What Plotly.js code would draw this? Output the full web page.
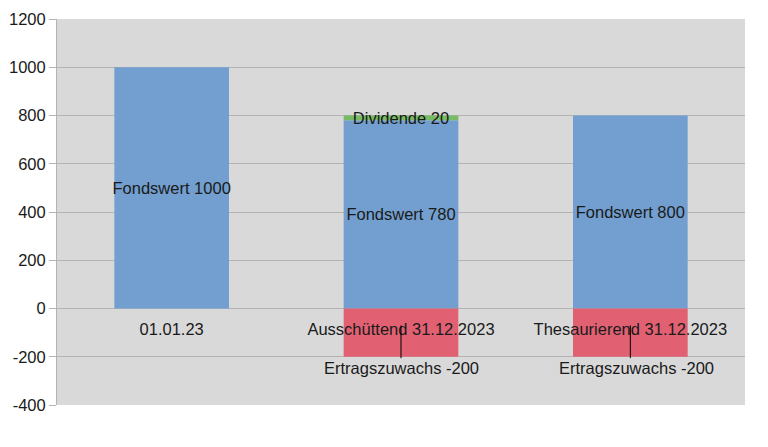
<!DOCTYPE html>
<html>
<head>
<meta charset="utf-8">
<script src="https://cdn.plot.ly/plotly-3.0.1.min.js"></script>
<style>html,body{margin:0;padding:0;background:#fff;}#chart{width:768px;height:447px;}</style>
</head>
<body>
<div id="chart"></div>
<script>
const categories = ["01.01.23", "Ausschüttend 31.12.2023", "Thesaurierend 31.12.2023"];
const fondswert = [1000, 780, 800];
const dividende = [null, 20, null];
const ertragszuwachs = [null, -200, -200];
const yTicks = [-400, -200, 0, 200, 400, 600, 800, 1000, 1200];

const FONT = "Liberation Sans, Arial, sans-serif";
const txtFont = {family: FONT, size: 16.5, color: "#1a1a1a"};

const traces = [
  {
    type: "bar", name: "Fondswert", x: categories, y: fondswert,
    marker: {color: "#729fcf"}, width: 0.5,
    text: fondswert.map(v => v === null ? "" : "Fondswert " + v),
    textposition: "inside", insidetextanchor: "middle", textangle: 0,
    constraintext: "none", insidetextfont: txtFont, cliponaxis: false,
    hoverinfo: "skip"
  },
  {
    type: "bar", name: "Dividende", x: categories, y: dividende,
    marker: {color: "#77bc65"}, width: 0.5,
    text: dividende.map(v => v === null ? "" : "Dividende " + v),
    textposition: "inside", insidetextanchor: "middle", textangle: 0,
    constraintext: "none", insidetextfont: txtFont, cliponaxis: false,
    hoverinfo: "skip"
  },
  {
    type: "bar", name: "Ertragszuwachs", x: categories, y: ertragszuwachs,
    marker: {color: "#e16173"}, width: 0.5, hoverinfo: "skip"
  }
];

const annotations = [];
const shapes = [];
categories.forEach((c, i) => {
  const v = ertragszuwachs[i];
  if (v === null) return;
  shapes.push({
    type: "line", xref: "x", yref: "y", x0: c, x1: c,
    y0: v * 0.35, y1: v * 1.03,
    line: {color: "#000", width: 1}
  });
  annotations.push({
    x: c, y: v * 1.03, xref: "x", yref: "y",
    text: "Ertragszuwachs " + v,
    showarrow: false, yanchor: "top", yshift: 1,
    xshift: i === 2 ? 6 : 0,
    font: txtFont
  });
});

const layout = {
  width: 768, height: 447,
  margin: {l: 57, r: 23, t: 19, b: 42, pad: 0},
  paper_bgcolor: "#ffffff",
  plot_bgcolor: "#d9d9d9",
  barmode: "relative",
  showlegend: false,
  font: txtFont,
  xaxis: {
    type: "category", anchor: "free", position: 0.25,
    showgrid: false, zeroline: false, showline: false,
    ticks: "outside", ticklen: 6, tickcolor: "rgba(0,0,0,0)",
    tickfont: txtFont, fixedrange: true
  },
  yaxis: {
    range: [-400, 1200], tickvals: yTicks,
    ticktext: yTicks.map(String),
    gridcolor: "#b3b3b3", gridwidth: 1,
    zeroline: true, zerolinecolor: "#b3b3b3", zerolinewidth: 1,
    showline: true, linecolor: "#b3b3b3", linewidth: 1,
    ticks: "outside", ticklen: 7, tickcolor: "#b3b3b3",
    tickfont: txtFont, fixedrange: true
  },
  shapes: shapes,
  annotations: annotations
};

Plotly.newPlot("chart", traces, layout, {displayModeBar: false, staticPlot: true});
</script>
</body>
</html>
